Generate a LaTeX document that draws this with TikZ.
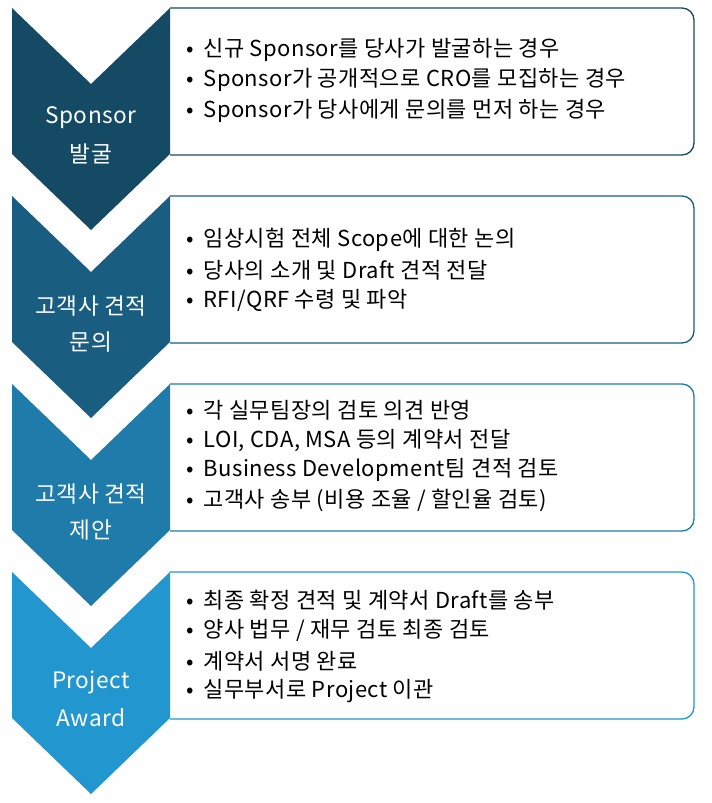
\documentclass[tikz,border=0pt]{standalone}
\usepackage{fontspec}
\setmainfont{Noto Sans CJK KR}[LetterSpace=2]
\definecolor{c1}{RGB}{21,74,100}
\definecolor{c2}{RGB}{25,93,128}
\definecolor{c3}{RGB}{31,124,170}
\definecolor{c4}{RGB}{33,150,207}
\tikzset{item/.style={anchor=west,inner sep=0pt,font=\fontsize{16.5}{18}\selectfont},
lab/.style={text=white,inner sep=0pt,font=\fontsize{17}{18}\selectfont}}
\newcommand{\bul}{\makebox[13pt][l]{•}}
\begin{document}
\begin{tikzpicture}[x=0.75pt,y=-0.75pt]
\useasboundingbox (0,0) rectangle (711,803);
\foreach \c/\t/\a/\b in {c1/8/Sponsor/발굴, c2/196/고객사 견적/문의, c3/384/고객사 견적/제안, c4/572/Project/Award}{
  \draw[\c,line width=1pt,rounded corners=9] (170,\t) -- (694,\t) -- (694,\t+147) -- (170,\t+147);
  \fill[\c] (12,\t) -- (91,\t+76) -- (170,\t) -- (170,\t+146) -- (91,\t+222) -- (12,\t+146) -- cycle;
  \node[lab] (a\t) at (91,\t+110) {\a};
  \node[lab] (b\t) at (91,\t+146) {\b};
}
\node[item] (p1) at (186,50) {\bul 신규 Sponsor를 당사가 발굴하는 경우};
\node[item] (p2) at (186,80) {\bul Sponsor가 공개적으로 CRO를 모집하는 경우};
\node[item] (p3) at (186,111) {\bul Sponsor가 당사에게 문의를 먼저 하는 경우};
\node[item] (q1) at (186,240) {\bul 임상시험 전체 Scope에 대한 논의};
\node[item] (q2) at (186,270) {\bul 당사의 소개 및 Draft 견적 전달};
\node[item] (q3) at (186,300) {\bul RFI/QRF 수령 및 파악};
\node[item] (r1) at (186,410) {\bul 각 실무팀장의 검토 의견 반영};
\node[item] (r2) at (186,440) {\bul LOI, CDA, MSA 등의 계약서 전달};
\node[item] (r3) at (186,470) {\bul Business Development팀 견적 검토};
\node[item] (r4) at (186,500) {\bul 고객사 송부 (비용 조율 / 할인율 검토)};
\node[item] (s1) at (186,600) {\bul 최종 확정 견적 및 계약서 Draft를 송부};
\node[item] (s2) at (186,630) {\bul 양사 법무 / 재무 검토 최종 검토};
\node[item] (s3) at (186,661) {\bul 계약서 서명 완료};
\node[item] (s4) at (186,691) {\bul 실무부서로 Project 이관};
\end{tikzpicture}
\end{document}
